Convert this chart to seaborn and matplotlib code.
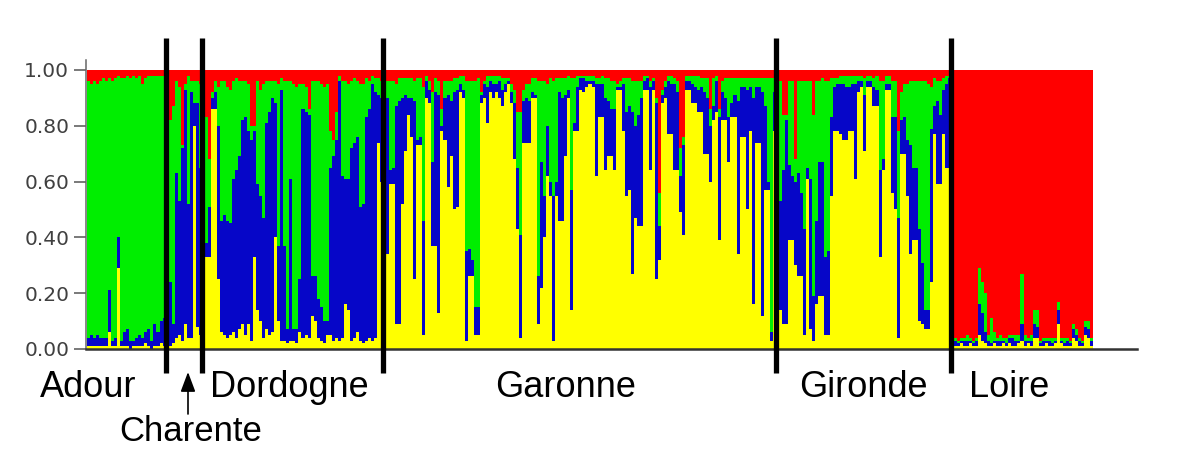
import numpy as np
import pandas as pd
import matplotlib
matplotlib.use("Agg")
import matplotlib.pyplot as plt
import seaborn as sns

# ---------------- data (membership proportions per individual) ----------------
groups = ["Adour", "Charente", "Dordogne", "Garonne", "Gironde", "Loire"]
cluster_names = ["yellow", "blue", "green", "red"]   # stacking order bottom -> top
y_ticks = [0.0, 0.2, 0.4, 0.6, 0.8, 1.0]
y_tick_labels = ["0.00", "0.20", "0.40", "0.60", "0.80", "1.00"]

adour_yellow = [0.01,0.01,0.01,0.01,0.01,0.01,0.01,0.06,0.01,0.01,0.29,0.01,0.01,0.01,0.00,0.01,0.01,0.01,0.01,0.02,0.01,0.00,0.01,0.01,0.02,0.01]
adour_blue   = [0.03,0.04,0.03,0.04,0.03,0.03,0.03,0.15,0.02,0.03,0.11,0.02,0.05,0.06,0.03,0.02,0.03,0.04,0.03,0.04,0.06,0.03,0.08,0.05,0.08,0.10]
adour_green  = [0.92,0.90,0.92,0.90,0.92,0.93,0.92,0.76,0.93,0.93,0.58,0.94,0.91,0.91,0.94,0.95,0.93,0.93,0.91,0.91,0.91,0.95,0.89,0.92,0.88,0.87]

charente_yellow = [0.02,0.01,0.02,0.04,0.05,0.03,0.09,0.04,0.04,0.80,0.08,0.05]
charente_blue   = [0.64,0.23,0.07,0.59,0.48,0.69,0.84,0.48,0.88,0.08,0.80,0.60]
charente_green  = [0.30,0.58,0.78,0.33,0.41,0.01,0.02,0.46,0.04,0.08,0.08,0.30]

dordogne_yellow = [0.14,0.33,0.33,0.86,0.86,0.25,0.06,0.05,0.04,0.05,0.06,0.04,0.07,0.09,0.05,0.09,0.03,0.33,0.14,0.10,
                   0.04,0.07,0.05,0.06,0.40,0.10,0.03,0.03,0.02,0.03,0.03,0.02,0.06,0.04,0.05,0.04,0.12,0.10,0.04,0.03,
                   0.02,0.05,0.05,0.03,0.04,0.03,0.04,0.16,0.14,0.03,0.04,0.06,0.03,0.02,0.03,0.04,0.03,0.04,0.74,0.60]
dordogne_blue   = [0.61,0.05,0.18,0.04,0.06,0.55,0.40,0.43,0.42,0.40,0.55,0.60,0.62,0.73,0.78,0.69,0.72,0.45,0.45,0.45,
                   0.43,0.74,0.80,0.84,0.48,0.27,0.90,0.34,0.05,0.58,0.04,0.05,0.19,0.82,0.80,0.80,0.14,0.16,0.14,0.12,
                   0.08,0.05,0.60,0.66,0.71,0.93,0.58,0.45,0.47,0.69,0.70,0.70,0.48,0.50,0.80,0.82,0.92,0.88,0.17,0.30]
dordogne_green  = [0.12,0.45,0.17,0.02,0.04,0.14,0.50,0.48,0.48,0.48,0.35,0.33,0.27,0.14,0.13,0.17,0.05,0.02,0.37,0.38,
                   0.48,0.15,0.11,0.06,0.08,0.58,0.04,0.59,0.89,0.35,0.88,0.87,0.70,0.09,0.09,0.02,0.70,0.70,0.78,0.80,
                   0.84,0.85,0.13,0.06,0.10,0.02,0.34,0.35,0.34,0.24,0.23,0.20,0.44,0.43,0.14,0.10,0.03,0.05,0.06,0.06]

garonne_yellow = [0.90,0.34,0.59,0.59,0.09,0.09,0.52,0.71,0.84,0.76,0.25,0.73,0.73,0.05,0.90,0.88,0.37,0.37,0.13,0.78,
                  0.75,0.58,0.69,0.50,0.51,0.92,0.90,0.03,0.26,0.26,0.05,0.05,0.88,0.90,0.81,0.92,0.90,0.92,0.90,0.87,
                  0.92,0.95,0.88,0.68,0.43,0.04,0.74,0.74,0.74,0.90,0.90,0.09,0.22,0.40,0.62,0.55,0.03,0.55,0.46,0.46,
                  0.69,0.90,0.14,0.78,0.78,0.93,0.92,0.94,0.95,0.94,0.62,0.83,0.83,0.64,0.69,0.69,0.64,0.93,0.93,0.78,
                  0.55,0.57,0.27,0.47,0.44,0.44,0.93,0.93,0.64,0.93,0.25,0.32,0.88,0.90,0.77,0.77,0.64,0.64,0.49,0.41,
                  0.93,0.93,0.88,0.88,0.85,0.85,0.70,0.70,0.60,0.82,0.85,0.39,0.82,0.82,0.67,0.83,0.83,0.34,0.76,0.76,
                  0.50,0.78,0.16,0.74,0.74,0.12,0.57,0.57,0.03,0.78]
garonne_blue   = [0.05,0.56,0.05,0.06,0.78,0.80,0.38,0.20,0.06,0.14,0.64,0.02,0.03,0.41,0.06,0.05,0.30,0.55,0.78,0.02,
                  0.15,0.33,0.20,0.42,0.42,0.03,0.03,0.32,0.10,0.06,0.10,0.10,0.03,0.05,0.13,0.04,0.05,0.03,0.06,0.06,
                  0.03,0.01,0.04,0.20,0.22,0.37,0.15,0.16,0.15,0.02,0.01,0.17,0.45,0.15,0.18,0.05,0.52,0.05,0.46,0.44,
                  0.22,0.03,0.43,0.03,0.16,0.04,0.05,0.02,0.01,0.02,0.33,0.12,0.12,0.26,0.20,0.17,0.22,0.01,0.01,0.17,
                  0.30,0.30,0.58,0.33,0.40,0.46,0.03,0.04,0.30,0.03,0.63,0.12,0.03,0.04,0.19,0.18,0.31,0.28,0.13,0.32,
                  0.03,0.03,0.07,0.06,0.08,0.09,0.22,0.20,0.20,0.05,0.11,0.44,0.10,0.08,0.16,0.05,0.08,0.55,0.18,0.18,
                  0.43,0.16,0.74,0.20,0.20,0.80,0.30,0.03,0.03,0.14]
garonne_green  = [0.03,0.06,0.32,0.31,0.08,0.08,0.07,0.06,0.07,0.07,0.07,0.22,0.21,0.48,0.02,0.03,0.25,0.05,0.05,0.06,
                  0.06,0.05,0.07,0.05,0.04,0.03,0.05,0.61,0.60,0.64,0.81,0.82,0.01,0.01,0.04,0.02,0.03,0.03,0.02,0.04,
                  0.02,0.01,0.03,0.05,0.20,0.44,0.04,0.05,0.06,0.05,0.06,0.70,0.29,0.41,0.15,0.37,0.41,0.37,0.05,0.07,
                  0.06,0.05,0.40,0.16,0.04,0.01,0.01,0.02,0.02,0.02,0.02,0.02,0.03,0.07,0.08,0.10,0.10,0.01,0.02,0.02,
                  0.12,0.10,0.11,0.16,0.12,0.06,0.02,0.01,0.02,0.01,0.02,0.12,0.02,0.02,0.02,0.03,0.02,0.04,0.10,0.03,
                  0.02,0.02,0.03,0.04,0.05,0.03,0.05,0.07,0.06,0.10,0.02,0.03,0.04,0.07,0.14,0.09,0.06,0.08,0.03,0.03,
                  0.04,0.03,0.07,0.03,0.03,0.05,0.10,0.37,0.91,0.05]

gironde_yellow = [0.10,0.14,0.09,0.09,0.39,0.39,0.30,0.26,0.26,0.05,0.61,0.07,0.03,0.16,0.19,0.19,0.05,0.05,0.55,0.78,
                  0.78,0.77,0.75,0.75,0.78,0.78,0.61,0.92,0.94,0.71,0.94,0.94,0.87,0.87,0.33,0.64,0.93,0.93,0.56,0.50,
                  0.04,0.70,0.70,0.55,0.34,0.39,0.39,0.10,0.09,0.07,0.07,0.24,0.77,0.59,0.59,0.77,0.65,0.65]
gironde_blue   = [0.41,0.39,0.55,0.73,0.27,0.23,0.30,0.37,0.30,0.38,0.04,0.54,0.16,0.30,0.48,0.48,0.28,0.30,0.28,0.16,
                  0.17,0.18,0.20,0.19,0.16,0.17,0.34,0.04,0.02,0.20,0.02,0.02,0.07,0.06,0.31,0.04,0.02,0.02,0.27,0.33,
                  0.43,0.12,0.13,0.20,0.39,0.26,0.26,0.33,0.22,0.07,0.07,0.55,0.10,0.30,0.25,0.16,0.30,0.32]
gironde_green  = [0.45,0.43,0.20,0.02,0.30,0.34,0.08,0.33,0.40,0.53,0.31,0.35,0.65,0.50,0.29,0.30,0.63,0.61,0.14,0.03,
                  0.02,0.03,0.03,0.04,0.04,0.03,0.03,0.02,0.02,0.06,0.02,0.02,0.03,0.05,0.32,0.28,0.03,0.03,0.13,0.13,
                  0.31,0.10,0.12,0.20,0.23,0.31,0.31,0.53,0.65,0.82,0.81,0.15,0.10,0.07,0.12,0.04,0.03,0.01]

loire_yellow = [0.02,0.01,0.01,0.02,0.01,0.01,0.02,0.01,0.01,0.05,0.03,0.02,0.01,0.01,0.02,0.01,0.01,0.02,0.01,0.02,
                0.01,0.01,0.02,0.03,0.01,0.02,0.01,0.04,0.04,0.01,0.01,0.02,0.01,0.01,0.02,0.09,0.02,0.01,0.01,0.01,
                0.04,0.03,0.01,0.01,0.05,0.04,0.01]
loire_blue   = [0.02,0.02,0.01,0.01,0.02,0.02,0.01,0.01,0.02,0.11,0.10,0.04,0.02,0.01,0.01,0.02,0.02,0.01,0.01,0.02,
                0.03,0.02,0.01,0.06,0.02,0.01,0.02,0.05,0.04,0.01,0.02,0.01,0.02,0.01,0.01,0.05,0.01,0.01,0.02,0.01,
                0.03,0.02,0.02,0.01,0.03,0.03,0.02]
loire_green  = [0.03,0.01,0.01,0.01,0.01,0.02,0.01,0.01,0.01,0.13,0.11,0.14,0.02,0.09,0.03,0.01,0.02,0.01,0.02,0.01,
                0.01,0.02,0.02,0.18,0.02,0.01,0.02,0.05,0.06,0.01,0.01,0.01,0.01,0.02,0.01,0.03,0.01,0.02,0.01,0.01,
                0.02,0.02,0.01,0.01,0.02,0.03,0.01]

group_yellow = [adour_yellow, charente_yellow, dordogne_yellow, garonne_yellow, gironde_yellow, loire_yellow]
group_blue = [adour_blue, charente_blue, dordogne_blue, garonne_blue, gironde_blue, loire_blue]
group_green = [adour_green, charente_green, dordogne_green, garonne_green, gironde_green, loire_green]

# ---------------- build table ----------------
rows = []
for g, ys, bs, gs in zip(groups, group_yellow, group_blue, group_green):
    n = min(len(ys), len(bs), len(gs))
    for i in range(n):
        yv, bv, gv = ys[i], bs[i], gs[i]
        rv = max(0.0, 1.0 - yv - bv - gv)
        rows.append(dict(group=g, yellow=yv, blue=bv, green=gv, red=rv))
df = pd.DataFrame(rows)
df["ind"] = np.arange(len(df))
df["cum_yellow"] = df["yellow"]
df["cum_blue"] = df["cum_yellow"] + df["blue"]
df["cum_green"] = df["cum_blue"] + df["green"]
df["cum_red"] = df["cum_green"] + df["red"]
N = len(df)
counts = df.groupby("group", sort=False).size().reindex(groups).values
bounds = np.cumsum(counts)[:-1] - 0.5

colors = {"yellow": "#ffff00", "blue": "#0606c8", "green": "#00ee00", "red": "#ff0000"}

# ---------------- figure ----------------
W, H = 1197, 449
fig = plt.figure(figsize=(W / 100, H / 100), dpi=100)
fig.patch.set_facecolor("white")
ax = fig.add_axes([86 / W, 100 / H, (1137 - 86) / W, (349 - 60) / H])

for layer in ["cum_red", "cum_green", "cum_blue", "cum_yellow"]:
    sns.barplot(data=df, x="ind", y=layer, native_scale=True, width=1.0,
                color=colors[layer.split("_")[1]], saturation=1, linewidth=0,
                errorbar=None, ax=ax, antialiased=False)

px_per = (1093 - 87) / N
ax.set_xlim(-0.5 - 1 / px_per, -0.5 + (1137 - 87) / px_per)
ax.set_ylim(0, 1 + 10 / 279)
ax.set_xlabel("")
ax.set_ylabel("")
ax.set_xticks([])
ax.set_yticks(y_ticks)
ax.set_yticklabels(y_tick_labels, fontsize=14.5, color="#404040", family="DejaVu Sans")
ax.tick_params(axis="y", length=8.6, width=1.1, color="#555555", pad=3.5, direction="out")
for s in ["top", "right"]:
    ax.spines[s].set_visible(False)
ax.spines["left"].set_color("#666666")
ax.spines["left"].set_linewidth(1.1)
ax.spines["bottom"].set_color("#333333")
ax.spines["bottom"].set_linewidth(1.8)
ax.set_facecolor("white")

# population separators
for b in bounds:
    ax.plot([b, b], [-24 / 279, 311 / 279], color="black", lw=3.8,
            solid_capstyle="butt", clip_on=False, zorder=10)

# population labels
label_pos = {"Adour": 88, "Dordogne": 289, "Garonne": 566, "Gironde": 863, "Loire": 1009}
for name, px in label_pos.items():
    fig.text(px / W, 1 - 397 / H, name, ha="center", va="baseline",
             fontsize=26, family="Liberation Sans", color="black")
fig.text(191 / W, 1 - 441 / H, "Charente", ha="center", va="baseline",
         fontsize=25, family="Liberation Sans", color="black")
ax.annotate("", xy=(188, H - 372), xytext=(188, H - 414),
            xycoords="figure pixels", textcoords="figure pixels",
            arrowprops=dict(arrowstyle="-|>,head_length=0.8,head_width=0.3", color="black", lw=1.2,
                            mutation_scale=15, shrinkA=0, shrinkB=0))

fig.savefig("out.png", dpi=100, facecolor="white")
